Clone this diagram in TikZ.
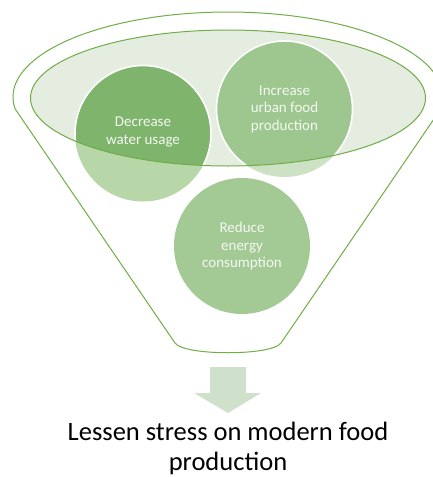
\documentclass[tikz,border=0pt]{standalone}
\usepackage{fontspec}
\setmainfont{Carlito}
\begin{document}
\definecolor{funnelline}{HTML}{70AD47}
\definecolor{rimfill}{HTML}{E5EDE1}
\definecolor{deepgreen}{HTML}{7EB46B}
\definecolor{midgreen}{HTML}{9EC78F}
\definecolor{softgreen}{HTML}{A3CA95}
\definecolor{palegreen}{HTML}{B7D7A9}
\definecolor{palergreen}{HTML}{CDE2C4}
\definecolor{arrowgreen}{HTML}{D0E1CB}
\definecolor{bubbletext}{HTML}{F4F8F2}
\begin{tikzpicture}[x=1pt,y=-1pt,
  outline/.style={draw=funnelline,line width=1pt},
  bubble/.style={circle,minimum size=136pt,inner sep=0pt,align=center,
    text=bubbletext,font=\fontsize{15}{17.5}\selectfont},
  ring/.style={draw=white,line width=1.6pt}]
\useasboundingbox (0,0) rectangle (432,477);
% funnel body
\draw[outline] (228,97) ++(172:215 and 85) coordinate (lt)
  arc[start angle=172,end angle=368,x radius=215,y radius=85] coordinate (rt)
  -- (281,343) coordinate (rb)
  .. controls (272,356) and (184,356) .. (175,343) coordinate (lb)
  -- (lt);
% rim of the funnel
\fill[rimfill] (228,98) ellipse[x radius=197.5,y radius=68];
% bubbles
\node[bubble] (dec) at (143,133.5) {};
\node[bubble] (inc) at (284.5,109) {};
\node[bubble,fill=softgreen] (red) at (242,246) {Reduce\\energy\\consumption};
\fill[palegreen] (dec.center) circle[radius=68];
\fill[palergreen] (inc.center) circle[radius=68];
\begin{scope}
  \clip (228,98) ellipse[x radius=197.5,y radius=68];
  \filldraw[fill=deepgreen,ring] (dec.center) circle[radius=68];
  \filldraw[fill=midgreen,ring] (inc.center) circle[radius=68];
\end{scope}
\node[bubble] at ([yshift=1.5pt]dec.center) {Decrease\\water usage};
\node[bubble] at (inc.center) {Increase\\urban food\\production};
\draw[outline] (228,98) ellipse[x radius=197.5,y radius=68];
% outlet arrow
\fill[arrowgreen] (210,367) -- (246,367) -- (246,393) -- (261,393)
  -- (228,413) coordinate (tip) -- (194,393) -- (210,393) -- cycle;
\node[align=center,font=\fontsize{26.5}{30}\selectfont,anchor=north,inner sep=0pt]
  (goal) at (228,422) {Lessen stress on modern food\\production};
\end{tikzpicture}
\end{document}
